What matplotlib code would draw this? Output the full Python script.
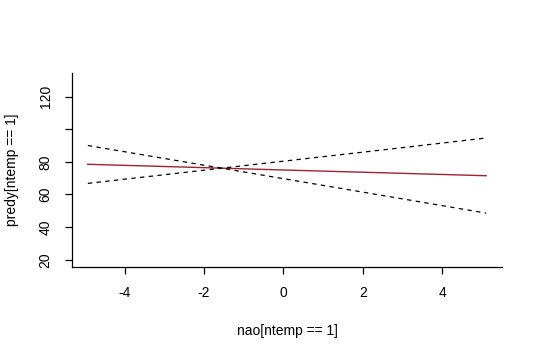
import matplotlib
matplotlib.use("Agg")
import matplotlib.pyplot as plt

plt.rcParams["font.family"] = ["Liberation Sans", "DejaVu Sans"]

# fitted values and confidence band
nao = [-4.93, -2.5, 0.0, 2.5, 5.11]
fit = [78.5, 76.8, 75.0, 73.3, 71.5]
lower_band = [90.0, 80.0, 69.7, 59.4, 48.6]
upper_band = [66.8, 73.5, 80.4, 87.3, 94.6]

xticks = [-4, -2, 0, 2, 4]
yticks = [20, 40, 60, 80, 100, 120]
ylabels = ["20", "40", "60", "80", "", "120"]

fig = plt.figure(figsize=(5.4, 3.57), dpi=100)
ax = fig.add_axes([0.1333, 0.2521, 0.7963, 0.5434])

ax.plot(nao, fit, color="#9b2335", lw=1.0)
ax.plot(nao, lower_band, color="black", lw=0.9, linestyle=(0, (3.5, 3.5)))
ax.plot(nao, upper_band, color="black", lw=0.9, linestyle=(0, (3.5, 3.5)))

ax.set_xlim(-5.33, 5.51)
ax.set_ylim(15.6, 134.4)
ax.set_xticks(xticks)
ax.set_xticklabels([str(t) for t in xticks])
ax.set_yticks(yticks)
ax.set_yticklabels(ylabels, rotation=90, va="center")

for s in ["top", "right"]:
    ax.spines[s].set_visible(False)
for s in ["left", "bottom"]:
    ax.spines[s].set_linewidth(0.9)

ax.tick_params(length=5, width=0.9, pad=9, labelsize=10)
ax.set_xlabel("nao[ntemp == 1]", fontsize=10, labelpad=17)
ax.set_ylabel("predy[ntemp == 1]", fontsize=10, labelpad=14)

fig.savefig("out.png", dpi=100)
